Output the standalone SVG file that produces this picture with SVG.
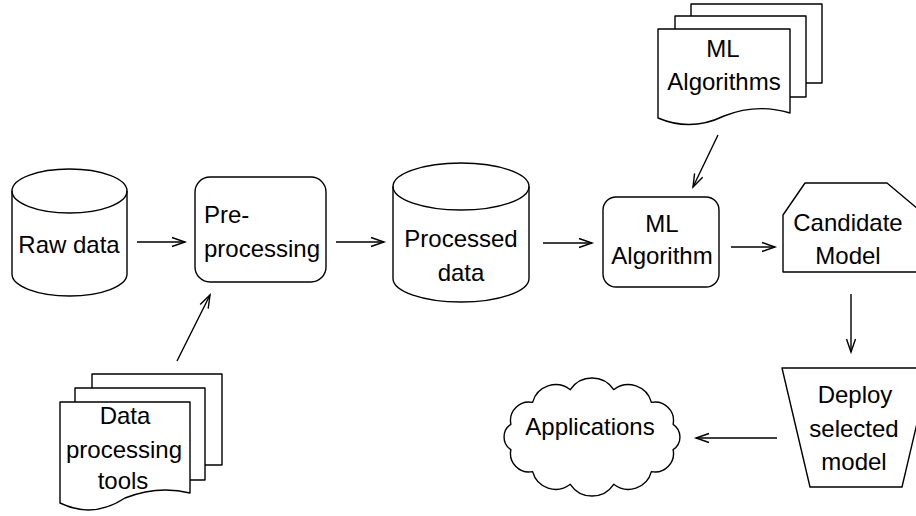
<svg xmlns="http://www.w3.org/2000/svg" width="916" height="516" viewBox="0 0 916 516">
<defs>
<style>
.s{fill:#fff;stroke:#000;stroke-width:1.4;stroke-linejoin:round}
.t{font-family:"Liberation Sans",Arial,sans-serif;font-size:24px;fill:#000}
.m{text-anchor:middle}
.c{fill:none;stroke:#000;stroke-width:1.4}
</style>
<marker id="ah" markerUnits="userSpaceOnUse" markerWidth="16" markerHeight="12" refX="13" refY="5" orient="auto" overflow="visible">
<path d="M0,0.5 L13,5 L0,9.5" fill="none" stroke="#000" stroke-width="1.4"/>
</marker>
</defs>
<rect width="916" height="516" fill="#fff"/>

<g id="raw-data">
<path class="s" d="M12,191 A57.5,22 0 0 1 127,191 V274 A57.5,22 0 0 1 12,274 Z"/>
<path class="c" d="M12,191 A57.5,22 0 0 0 127,191"/>
<text class="t m" x="69" y="253">Raw data</text>
</g>

<g id="pre-processing">
<rect class="s" x="195" y="177" width="131" height="105" rx="15"/>
<text class="t" x="204" y="223">Pre-</text>
<text class="t" x="204" y="257">processing</text>
</g>

<g id="processed-data">
<path class="s" d="M393,186.5 A68,23.5 0 0 1 529,186.5 V278.5 A68,23.5 0 0 1 393,278.5 Z"/>
<path class="c" d="M393,186.5 A68,23.5 0 0 0 529,186.5"/>
<text class="t m" x="461" y="247">Processed</text>
<text class="t m" x="461" y="281">data</text>
</g>

<g id="ml-algorithm">
<rect class="s" x="603" y="197" width="116" height="90" rx="13"/>
<text class="t m" x="662" y="232">ML</text>
<text class="t m" x="662" y="264">Algorithm</text>
</g>

<g id="ml-algorithms">
<rect class="s" x="691" y="4" width="131" height="79"/>
<rect class="s" x="675" y="16" width="131" height="81"/>
<path class="s" d="M658,29 H790 V113 Q757,103 724,116 Q691,132 658,118 Z"/>
<text class="t m" x="723" y="57">ML</text>
<text class="t m" x="724" y="90">Algorithms</text>
</g>

<g id="candidate-model">
<path class="s" d="M783,215 L805,183 H887 L925,215 V272 H783 Z"/>
<text class="t m" x="848" y="231">Candidate</text>
<text class="t m" x="848" y="264">Model</text>
</g>

<g id="deploy">
<path class="s" d="M782,368 H930 L902,487 H810 Z"/>
<text class="t m" x="855" y="403">Deploy</text>
<text class="t m" x="854" y="437">selected</text>
<text class="t m" x="854" y="470">model</text>
</g>

<g id="applications">
<path class="s" d="M673.1,424.3 A15.2,15.2 0 0 1 673.1,449.7 A18.5,18.5 0 0 1 651.4,471.6 A23.9,23.9 0 0 1 613.7,484.3 A26,26 0 0 1 570.3,484.3 A23.9,23.9 0 0 1 532.6,471.6 A18.5,18.5 0 0 1 510.9,449.7 A15.2,15.2 0 0 1 510.9,424.3 A18.5,18.5 0 0 1 532.6,402.4 A23.9,23.9 0 0 1 570.3,389.7 A26,26 0 0 1 613.7,389.7 A23.9,23.9 0 0 1 651.4,402.4 A18.5,18.5 0 0 1 673.1,424.3 Z"/>
<text class="t m" x="590" y="435">Applications</text>
</g>

<g id="data-tools">
<rect class="s" x="92" y="374" width="130" height="91"/>
<rect class="s" x="75" y="388" width="130" height="92"/>
<path class="s" d="M60,402 H190 V493 Q158,485 125,498 Q93,519 60,503 Z"/>
<text class="t m" x="125" y="424">Data</text>
<text class="t m" x="124" y="458">processing</text>
<text class="t m" x="123" y="489">tools</text>
</g>

<g id="connectors">
<line class="c" x1="137" y1="242" x2="185" y2="242" marker-end="url(#ah)"/>
<line class="c" x1="336" y1="242" x2="384" y2="242" marker-end="url(#ah)"/>
<line class="c" x1="543" y1="243" x2="592" y2="243" marker-end="url(#ah)"/>
<line class="c" x1="731" y1="247" x2="775" y2="247" marker-end="url(#ah)"/>
<line class="c" x1="718" y1="135" x2="693" y2="187" marker-end="url(#ah)"/>
<line class="c" x1="177" y1="361" x2="210" y2="295" marker-end="url(#ah)"/>
<line class="c" x1="851" y1="294" x2="851" y2="352" marker-end="url(#ah)"/>
<line class="c" x1="777" y1="438" x2="696" y2="438" marker-end="url(#ah)"/>
</g>
</svg>
